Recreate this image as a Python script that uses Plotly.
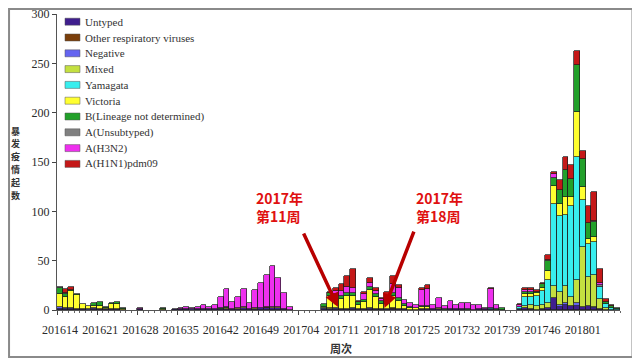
import plotly.graph_objects as go

# ---------------- data ----------------
WEEKS = [
    "201614","201615","201616","201617","201618","201619","201620","201621","201622","201623",
    "201624","201625","201626","201627","201628","201629","201630","201631","201632","201633",
    "201634","201635","201636","201637","201638","201639","201640","201641","201642","201643",
    "201644","201645","201646","201647","201648","201649","201650","201651","201652","201701",
    "201702","201703","201704","201705","201706","201707","201708","201709","201710","201711",
    "201712","201713","201714","201715","201716","201717","201718","201719","201720","201721",
    "201722","201723","201724","201725","201726","201727","201728","201729","201730","201731",
    "201732","201733","201734","201735","201736","201737","201738","201739","201740","201741",
    "201742","201743","201744","201745","201746","201747","201748","201749","201750","201751",
    "201752","201801","201802","201803","201804","201805","201806","201807",
]

TICK_LABELS = ["201614","201621","201628","201635","201642","201649","201704",
               "201711","201718","201725","201732","201739","201746","201801"]

Y_TICKS = [0, 50, 100, 150, 200, 250, 300]

SERIES_NAMES = ["Untyped", "Other respiratory viruses", "Negative", "Mixed", "Yamagata",
                "Victoria", "B(Lineage not determined)", "A(Unsubtyped)", "A(H3N2)", "A(H1N1)pdm09"]

SERIES_COLORS = ["#3F1E8E", "#7A3E0A", "#6464F0", "#C4E040", "#38EEEE",
                 "#FFFF30", "#22A02A", "#808080", "#EE30EE", "#C41818"]

untyped = [1,1,1,1,1,0,1,1,1,1, 1,0,0,0,1,0,0,0,0,0, 1,1,1,0,1,1,1,1,1,1,
           1,1,2,1,1,2,2,2,2,1, 0,0,0,0,0,0,1,1,1,1, 1,1,1,1,1,1,1,1,1,1,
           1,0,0,1,1,1,1,0,1,1, 1,0,0,1,1,1,0,0,0,0, 1,2,1,0,1,2,12,3,5,4,
           4,3,4,2,1,0,0,0]
other_resp = [0,0,0,0,0,0,0,0,0,0, 0,0,0,0,0,0,0,0,0,0, 0,0,0,0,0,0,0,0,0,0,
              0,0,0,0,0,0,1,0,0,0, 0,0,0,0,0,0,0,0,0,0, 0,0,0,0,0,0,0,0,1,0,
              0,0,0,0,0,0,0,0,0,0, 0,0,0,0,0,0,0,0,0,0, 0,0,0,0,0,0,0,0,0,0,
              0,0,0,0,0,0,0,0]
negative = [2,1,1,0,0,1,1,0,0,0, 0,0,0,0,0,0,0,0,0,0, 0,0,0,1,0,0,0,0,0,0,
            0,0,0,0,0,0,0,0,0,0, 0,0,0,0,0,0,1,0,1,0, 0,1,0,0,1,0,0,0,0,0,
            0,0,0,0,0,0,0,0,0,0, 0,0,0,0,0,0,0,0,0,0, 0,0,0,0,0,0,0,2,2,0,
            3,0,0,1,0,0,0,0]
mixed = [0,0,0,0,0,0,0,0,0,0, 0,0,0,0,0,0,0,0,1,0, 0,0,0,0,0,0,0,0,0,0,
         0,0,0,0,0,0,0,0,0,0, 0,0,0,0,0,0,1,1,0,0, 0,0,0,0,0,0,0,0,0,0,
         0,0,0,0,0,0,0,0,0,0, 0,0,0,0,0,0,0,0,0,0, 0,2,4,4,4,5,12,13,17,9,
         23,61,29,32,10,2,0,0]
yamagata = [0,0,0,0,0,0,0,0,0,0, 0,0,0,0,0,0,0,0,0,0, 0,0,0,0,0,0,0,0,0,0,
            0,0,0,0,0,0,0,0,0,0, 0,0,0,0,0,0,0,0,0,0, 0,0,0,0,0,0,0,0,0,0,
            0,0,0,0,0,0,0,0,0,0, 0,0,0,0,0,1,0,0,0,0, 2,9,8,10,14,23,83,77,72,92,
            125,47,34,34,12,4,2,1]
victoria = [13,11,17,14,5,3,2,3,1,5, 5,1,0,0,0,0,0,0,0,0, 0,0,0,0,0,0,0,0,0,1,
            0,1,1,0,1,0,0,1,1,0, 0,0,0,0,0,0,0,12,12,10, 13,12,4,7,18,12,5,6,12,8,
            3,2,2,2,2,0,1,0,0,0, 0,0,0,0,0,0,0,0,0,0, 0,3,3,3,3,10,19,12,19,10,
            46,14,5,5,0,0,0,0]
b_undet = [6,3,1,1,0,0,3,4,1,1, 2,1,0,0,0,0,0,0,1,0, 0,0,0,0,0,0,0,0,1,1,
           0,0,0,0,0,0,0,0,0,0, 0,0,0,0,0,0,3,3,2,3, 3,3,3,2,3,3,3,3,3,3,
           2,1,0,1,1,0,0,1,0,0, 0,1,0,0,0,0,1,2,0,0, 0,2,2,1,4,10,8,15,27,18,
           47,28,16,15,0,2,2,1]
a_unsub = [1,1,0,0,0,0,0,0,0,0, 0,0,0,0,0,0,0,0,0,0, 0,0,0,0,0,0,0,0,0,0,
           0,0,0,0,0,0,0,0,0,0, 0,0,0,0,0,0,0,0,0,0, 0,0,0,0,0,0,0,0,0,0,
           0,0,0,0,0,0,0,0,0,0, 0,0,0,0,0,0,0,0,0,0, 0,0,0,0,0,1,0,0,0,0,
           0,0,0,1,2,0,0,0]
a_h3n2 = [0,0,0,0,0,0,0,0,0,0, 0,0,0,0,1,0,0,0,0,0, 0,1,2,1,2,4,2,4,11,18,
          7,11,18,6,18,25,32,42,29,16, 3,0,0,0,0,0,0,0,3,5, 6,5,0,6,4,3,2,3,9,10,
          4,4,3,16,17,4,10,3,8,4, 6,6,5,4,1,19,4,0,0,0, 2,2,2,0,0,0,4,0,0,0,
          0,0,0,0,2,0,0,0]
a_h1n1 = [0,4,3,0,0,0,0,0,0,0, 0,0,0,0,0,0,0,0,0,0, 0,0,0,0,0,0,0,0,0,0,
          0,0,0,0,0,0,0,0,0,0, 0,0,0,0,0,0,0,1,3,7, 11,20,1,2,5,3,1,5,8,3,
          0,0,0,2,4,0,0,0,0,0, 0,0,0,0,0,1,0,0,0,0, 1,2,2,2,1,5,2,10,13,14,
          15,8,17,30,15,3,1,0]

SERIES_VALUES = [untyped, other_resp, negative, mixed, yamagata,
                 victoria, b_undet, a_unsub, a_h3n2, a_h1n1]

Y_TITLE = "暴发疫情起数"
X_TITLE = "周次"
ANNOT_WEEKS = ["201711", "201718"]
ANNOT_TEXTS = ["2017年<br>第11周", "2017年<br>第18周"]

# ---------------- geometry ----------------
# the page body has an 8px margin, so the figure is drawn 8px in from the window edge;
# all positions below are given in window pixels and converted.
OFF = 8
W, H = 640 - OFF, 363 - OFF
PLOT_L, PLOT_R, PLOT_T, PLOT_B = 57, 620.5, 14, 310   # window pixels
ML = PLOT_L - OFF
MR = W - (PLOT_R - OFF)
MT = PLOT_T - OFF
MB = H - (PLOT_B - OFF)
PW = PLOT_R - PLOT_L
PH = PLOT_B - PLOT_T

def px_x(p):
    return (p - PLOT_L) / PW

def px_y(p):
    return (PLOT_B - p) / PH

x_idx = list(range(len(WEEKS)))

fig = go.Figure()
for name, color, vals in zip(SERIES_NAMES, SERIES_COLORS, SERIES_VALUES):
    fig.add_trace(go.Bar(
        x=x_idx, y=[v if v else None for v in vals], name=name,
        marker=dict(color=color, line=dict(color="#1c1c1c", width=0.7)),
        width=1.0, showlegend=False,
    ))

tick_pos = [WEEKS.index(t) - 0.5 for t in TICK_LABELS]

fig.update_layout(
    width=W, height=H,
    margin=dict(l=ML, r=MR, t=MT, b=MB, pad=0),
    barmode="stack", bargap=0,
    paper_bgcolor="white", plot_bgcolor="white",
    font=dict(family="Liberation Serif", color="#333333"),
    showlegend=False,
    xaxis=dict(
        automargin=False,
        range=[-0.5, len(WEEKS) - 0.5],
        tickmode="array", tickvals=tick_pos, ticktext=TICK_LABELS,
        ticks="outside", ticklen=4, tickwidth=1, tickcolor="#444",
        ticklabelshift=3, ticklabelstandoff=4,
        minor=dict(tickmode="linear", tick0=-0.5, dtick=1, ticks="outside",
                   ticklen=2, tickcolor="#666", showgrid=False),
        showline=True, linecolor="#555", linewidth=1.2,
        showgrid=False, zeroline=False,
        tickfont=dict(family="Liberation Serif", size=12, color="#2a2a2a"),
    ),
    yaxis=dict(
        automargin=False,
        range=[0, 300], tickmode="array", tickvals=Y_TICKS,
        ticks="outside", ticklen=4, tickwidth=1, tickcolor="#444",
        ticklabeloverflow="allow",
        showline=True, linecolor="#555", linewidth=1.2,
        showgrid=False, zeroline=False,
        tickfont=dict(family="Liberation Serif", size=12, color="#2a2a2a"),
    ),
)

# compact legend, drawn from the series names / colours
for i, (name, color) in enumerate(zip(SERIES_NAMES, SERIES_COLORS)):
    cy = 21.7 + 15.8 * i
    fig.add_shape(type="rect", xref="paper", yref="paper",
                  x0=px_x(65), x1=px_x(80), y0=px_y(cy + 3.5), y1=px_y(cy - 3.5),
                  fillcolor=color, line=dict(color="#555", width=0.5))
    fig.add_annotation(xref="paper", yref="paper", x=px_x(83), y=px_y(cy),
                       xanchor="left", yanchor="middle", showarrow=False,
                       text=name, font=dict(family="Liberation Serif", size=11, color="#333"))

# vertical y-axis title, one character per line
for i, ch in enumerate(Y_TITLE):
    fig.add_annotation(xref="paper", yref="paper", x=px_x(15), y=px_y(131 + 12.8 * i),
                       text="<b>" + ch + "</b>", showarrow=False,
                       xanchor="center", yanchor="middle",
                       font=dict(family="Noto Sans CJK SC", size=9, color="#333"))
fig.add_annotation(xref="paper", yref="paper", x=px_x(341), y=px_y(348),
                   text="<b>" + X_TITLE + "</b>", showarrow=False, xanchor="center", yanchor="middle",
                   font=dict(family="Noto Sans CJK SC", size=11, color="#333"))

# red callouts with arrows
text_pos = [(280, 207), (440, 207)]
arrow_off = [(-0.6, 3, -35, -75), (0.5, 2, 30, -78)]
for wk, txt, (tx, ty), (dx, yv, ax, ay) in zip(ANNOT_WEEKS, ANNOT_TEXTS, text_pos, arrow_off):
    fig.add_annotation(xref="paper", yref="paper", x=px_x(tx), y=px_y(ty),
                       text="<b>" + txt + "</b>", showarrow=False,
                       xanchor="center", yanchor="middle", align="left",
                       font=dict(family="Noto Sans CJK SC", size=14, color="#E01010"))
    fig.add_annotation(x=WEEKS.index(wk) + dx, y=yv, xref="x", yref="y",
                       text="", showarrow=True, ax=ax, ay=ay,
                       arrowhead=2, arrowsize=0.8, arrowwidth=3.5, arrowcolor="#B80000")

# outer frame (as close to the window edge as the page allows)
fig.add_shape(type="rect", xref="paper", yref="paper",
              x0=px_x(OFF + 1), x1=px_x(633), y0=px_y(357), y1=px_y(OFF + 1),
              line=dict(color="#8a8a8a", width=2), fillcolor="rgba(0,0,0,0)", layer="above")

fig.write_html("out.html")
